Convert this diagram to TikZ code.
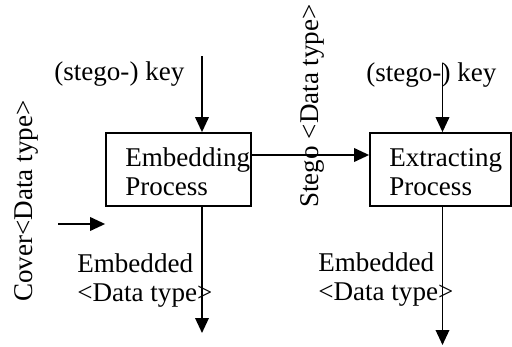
\documentclass[tikz,border=0pt]{standalone}
\usepackage{fontspec}
\setmainfont{Liberation Serif}
\usetikzlibrary{arrows.meta}

\begin{document}
\begin{tikzpicture}[
    font=\fontsize{15.4}{16.5}\selectfont,
    arr/.style={line width=1.1pt, -{Triangle[length=0.3cm,width=0.27cm]}},
    procbox/.style={draw, line width=1pt, minimum height=1.46cm, inner sep=0pt},
    lbl/.style={inner sep=0pt, align=left}]
    \useasboundingbox (0,0) rectangle (10.24,6.92);
    % the two processes
    \node[procbox, minimum width=2.90cm] (embed) at (3.57,3.53) {};
    \node[procbox, minimum width=2.82cm] (extract) at (8.81,3.53) {};
    \node[lbl, anchor=west] (embedtxt) at (2.50,3.48) {Embedding\\Process};
    \node[lbl, anchor=west] (extracttxt) at (7.78,3.48) {Extracting\\Process};
    % keys
    \node[lbl, anchor=base west] (keyA) at (1.08,5.32) {(stego-) key};
    \node[lbl, anchor=base west] (keyB) at (7.32,5.30) {(stego-) key};
    \coordinate (keyAtop) at (4.04,5.80);
    \coordinate (keyBtop) at (8.85,5.66);
    \draw[arr] (keyAtop) -- (keyAtop |- embed.north);
    \draw[arr] (keyBtop) -- (keyBtop |- extract.north);
    % stego object
    \draw[arr] ([yshift=0.29cm]embed.east) -- ([yshift=0.29cm]extract.west);
    \node[lbl, rotate=90, anchor=base west] (stego) at (6.36,2.76) {Stego <Data type>};
    % cover object
    \node[lbl, rotate=90, anchor=base west] (cover) at (0.64,0.88) {Cover<Data type>};
    \coordinate (coverin) at (1.16,2.44);
    \draw[arr] (coverin) -- (coverin -| embed.west);
    % embedded data
    \coordinate (outA) at (4.04,0.26);
    \coordinate (outB) at (8.85,0.02);
    \draw[arr] (outA |- embed.south) -- (outA);
    \draw[arr] (outB |- extract.south) -- (outB);
    \node[lbl, anchor=west] (outAtxt) at (1.54,1.30) {Embedded\\<Data type>};
    \node[lbl, anchor=west] (outBtxt) at (6.36,1.32) {Embedded\\<Data type>};
\end{tikzpicture}
\end{document}
